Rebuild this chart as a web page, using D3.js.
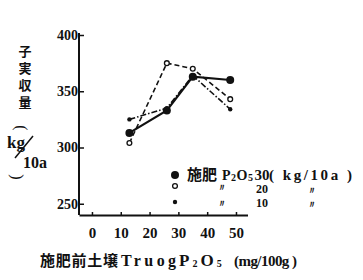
<!DOCTYPE html>
<html>
<head>
<meta charset="utf-8">
<script src="https://cdn.jsdelivr.net/npm/d3@7"></script>
<style>
  body { margin: 0; background: #fff; }
  svg { display: block; }
  .tick text { font-family: "Liberation Serif", serif; font-weight: 700; fill: #111; }
</style>
</head>
<body>
<div id="chart"></div>
<script>
// soil P before fertilising (mg/100g) and yield (kg/10a)
const soilP = [13, 26, 35, 48];
const yield30 = [313, 333, 363, 360];
const yield20 = [304, 375, 370, 343];
const yield10 = [325, 335, 364, 334];
const xTicks = [0, 10, 20, 30, 40, 50];
const yTicks = [250, 300, 350, 400];

const SERIES = [
    { key: '30', values: yield30, dash: null, width: 2.2, marker: 'big' },
    { key: '20', values: yield20, dash: '5,3', width: 1.6, marker: 'open' },
    { key: '10', values: yield10, dash: '6,2,1.5,2', width: 1.6, marker: 'dot' }
];

const width = 363, height = 280;
const serif = '"Liberation Serif", serif';
const cjk = '"Noto Sans CJK JP"';

const svg = d3.select('#chart').append('svg')
    .attr('width', width)
    .attr('height', height);

const x = d3.scaleLinear().domain([-4.5, 54]).range([79, 247.5]);
const y = d3.scaleLinear().domain([240, 400]).range([215, 35]);

// axes (ticks point inward)
const yAxis = svg.append('g')
    .attr('transform', `translate(${x(-4.5)},0)`)
    .call(d3.axisLeft(y).tickValues(yTicks).tickSizeInner(-5).tickSizeOuter(0).tickPadding(1));
yAxis.select('.domain').attr('stroke', '#111').attr('stroke-width', 2)
    .attr('d', `M0,${y(240)}V33`);
yAxis.selectAll('.tick line').attr('stroke', '#111').attr('stroke-width', 1.5);
yAxis.selectAll('.tick text').style('font-size', '14px');

const xAxis = svg.append('g')
    .attr('transform', `translate(0,${y(240)})`)
    .call(d3.axisBottom(x).tickValues(xTicks).tickSizeInner(-3).tickSizeOuter(0).tickPadding(12));
xAxis.select('.domain').attr('stroke', '#111').attr('stroke-width', 2);
xAxis.selectAll('.tick line').attr('stroke', '#111').attr('stroke-width', 1.5);
xAxis.selectAll('.tick text').style('font-size', '15px');

// lines
const line = d3.line()
    .x((d, i) => x(soilP[i]))
    .y(d => y(d));

SERIES.forEach(s => {
    svg.append('path')
        .datum(s.values)
        .attr('d', line)
        .attr('fill', 'none')
        .attr('stroke', '#111')
        .attr('stroke-width', s.width)
        .attr('stroke-dasharray', s.dash);
});

function drawMarker(g, type, cx, cy) {
    if (type === 'big') {
        g.append('circle').attr('cx', cx).attr('cy', cy).attr('r', 4).attr('fill', '#111');
    } else if (type === 'open') {
        g.append('circle').attr('cx', cx).attr('cy', cy).attr('r', 2.4)
            .attr('fill', '#fff').attr('stroke', '#111').attr('stroke-width', 1.3);
    } else {
        g.append('circle').attr('cx', cx).attr('cy', cy).attr('r', 2.2).attr('fill', '#111');
    }
}

const markers = svg.append('g');
SERIES.forEach(s => {
    s.values.forEach((v, i) => drawMarker(markers, s.marker, x(soilP[i]), y(v)));
});

// P2O5 with subscripts into a text element
function p2o5(t, spacing) {
    t.style('letter-spacing', spacing + 'px');
    t.append('tspan').text('P');
    t.append('tspan').attr('font-size', 10).attr('dy', 1).text('2');
    t.append('tspan').attr('dy', -1).text('O');
    t.append('tspan').attr('font-size', 10).attr('dy', 1).text('5');
}

// legend
const legendRows = [175, 186, 202];
const lg = svg.append('g').style('fill', '#111').style('font-weight', 700);
SERIES.forEach((s, i) => drawMarker(lg, s.marker, 175, legendRows[i]));
lg.append('text').attr('x', 187).attr('y', 180)
    .style('font-family', cjk).style('font-size', '15px')
    .attr('textLength', 30).text('施肥');
lg.append('text').attr('x', 222).attr('y', 180)
    .style('font-family', serif).style('font-size', '14px')
    .call(p2o5, 0.5);
lg.append('text').attr('x', 262).attr('y', 180).attr('text-anchor', 'middle')
    .style('font-family', serif).style('font-size', '15px').text(SERIES[0].key);
lg.append('text').attr('x', 269).attr('y', 180)
    .style('font-family', serif).style('font-size', '15px')
    .attr('textLength', 83).attr('lengthAdjust', 'spacing').text('( kg/10a )');
[1, 2].forEach(i => {
    const cy = legendRows[i];
    lg.append('text').attr('x', 222).attr('y', cy + 5)
        .attr('text-anchor', 'middle').style('font-size', '10px').style('font-family', serif).text('〃');
    lg.append('text').attr('x', 262).attr('y', i === 1 ? 193 : 207)
        .attr('text-anchor', 'middle').style('font-family', serif).style('font-size', '12px').text(SERIES[i].key);
    lg.append('text').attr('x', 312).attr('y', (i === 1 ? 189 : 203) + 5)
        .attr('text-anchor', 'middle').style('font-size', '10px').style('font-family', serif).text('〃');
});

// y axis title (vertical)
const yt = svg.append('g').style('fill', '#111');
yt.append('text').attr('x', 25).attr('y', 44.5)
    .style('writing-mode', 'vertical-rl')
    .style('letter-spacing', '4px')
    .style('font-family', cjk).style('font-size', '13px').style('font-weight', 700)
    .text('子実収量');
yt.append('text').attr('transform', 'translate(22,128) rotate(90)')
    .attr('text-anchor', 'middle').attr('dy', '0.35em')
    .style('font-family', serif).style('font-size', '16px').text('(');
yt.append('text').attr('x', 16).attr('y', 148).attr('text-anchor', 'middle')
    .style('font-family', serif).style('font-size', '17px').style('font-weight', 700).text('kg');
yt.append('line').attr('x1', 15).attr('y1', 158).attr('x2', 33).attr('y2', 136)
    .attr('stroke', '#111').attr('stroke-width', 1.5);
yt.append('text').attr('x', 35).attr('y', 168).attr('text-anchor', 'middle')
    .style('font-family', serif).style('font-size', '16px').style('font-weight', 700).text('10a');
yt.append('text').attr('transform', 'translate(18,177) rotate(90)')
    .attr('text-anchor', 'middle').attr('dy', '0.35em')
    .style('font-family', serif).style('font-size', '16px').text(')');

// x axis title
const xt = svg.append('g').style('fill', '#111').style('font-weight', 700);
xt.append('text').attr('x', 40).attr('y', 266)
    .style('font-family', cjk).style('font-size', '15px')
    .attr('textLength', 78).text('施肥前土壌');
xt.append('text').attr('x', 121).attr('y', 266)
    .style('font-family', serif).style('font-size', '16px')
    .attr('textLength', 55).attr('lengthAdjust', 'spacing').text('Truog');
xt.append('text').attr('x', 179).attr('y', 266)
    .style('font-family', serif).style('font-size', '17px')
    .call(p2o5, 3);
xt.append('text').attr('x', 234).attr('y', 266)
    .style('font-family', serif).style('font-size', '15px')
    .attr('textLength', 63).attr('lengthAdjust', 'spacing').text('(mg/100g )');
</script>
</body>
</html>
